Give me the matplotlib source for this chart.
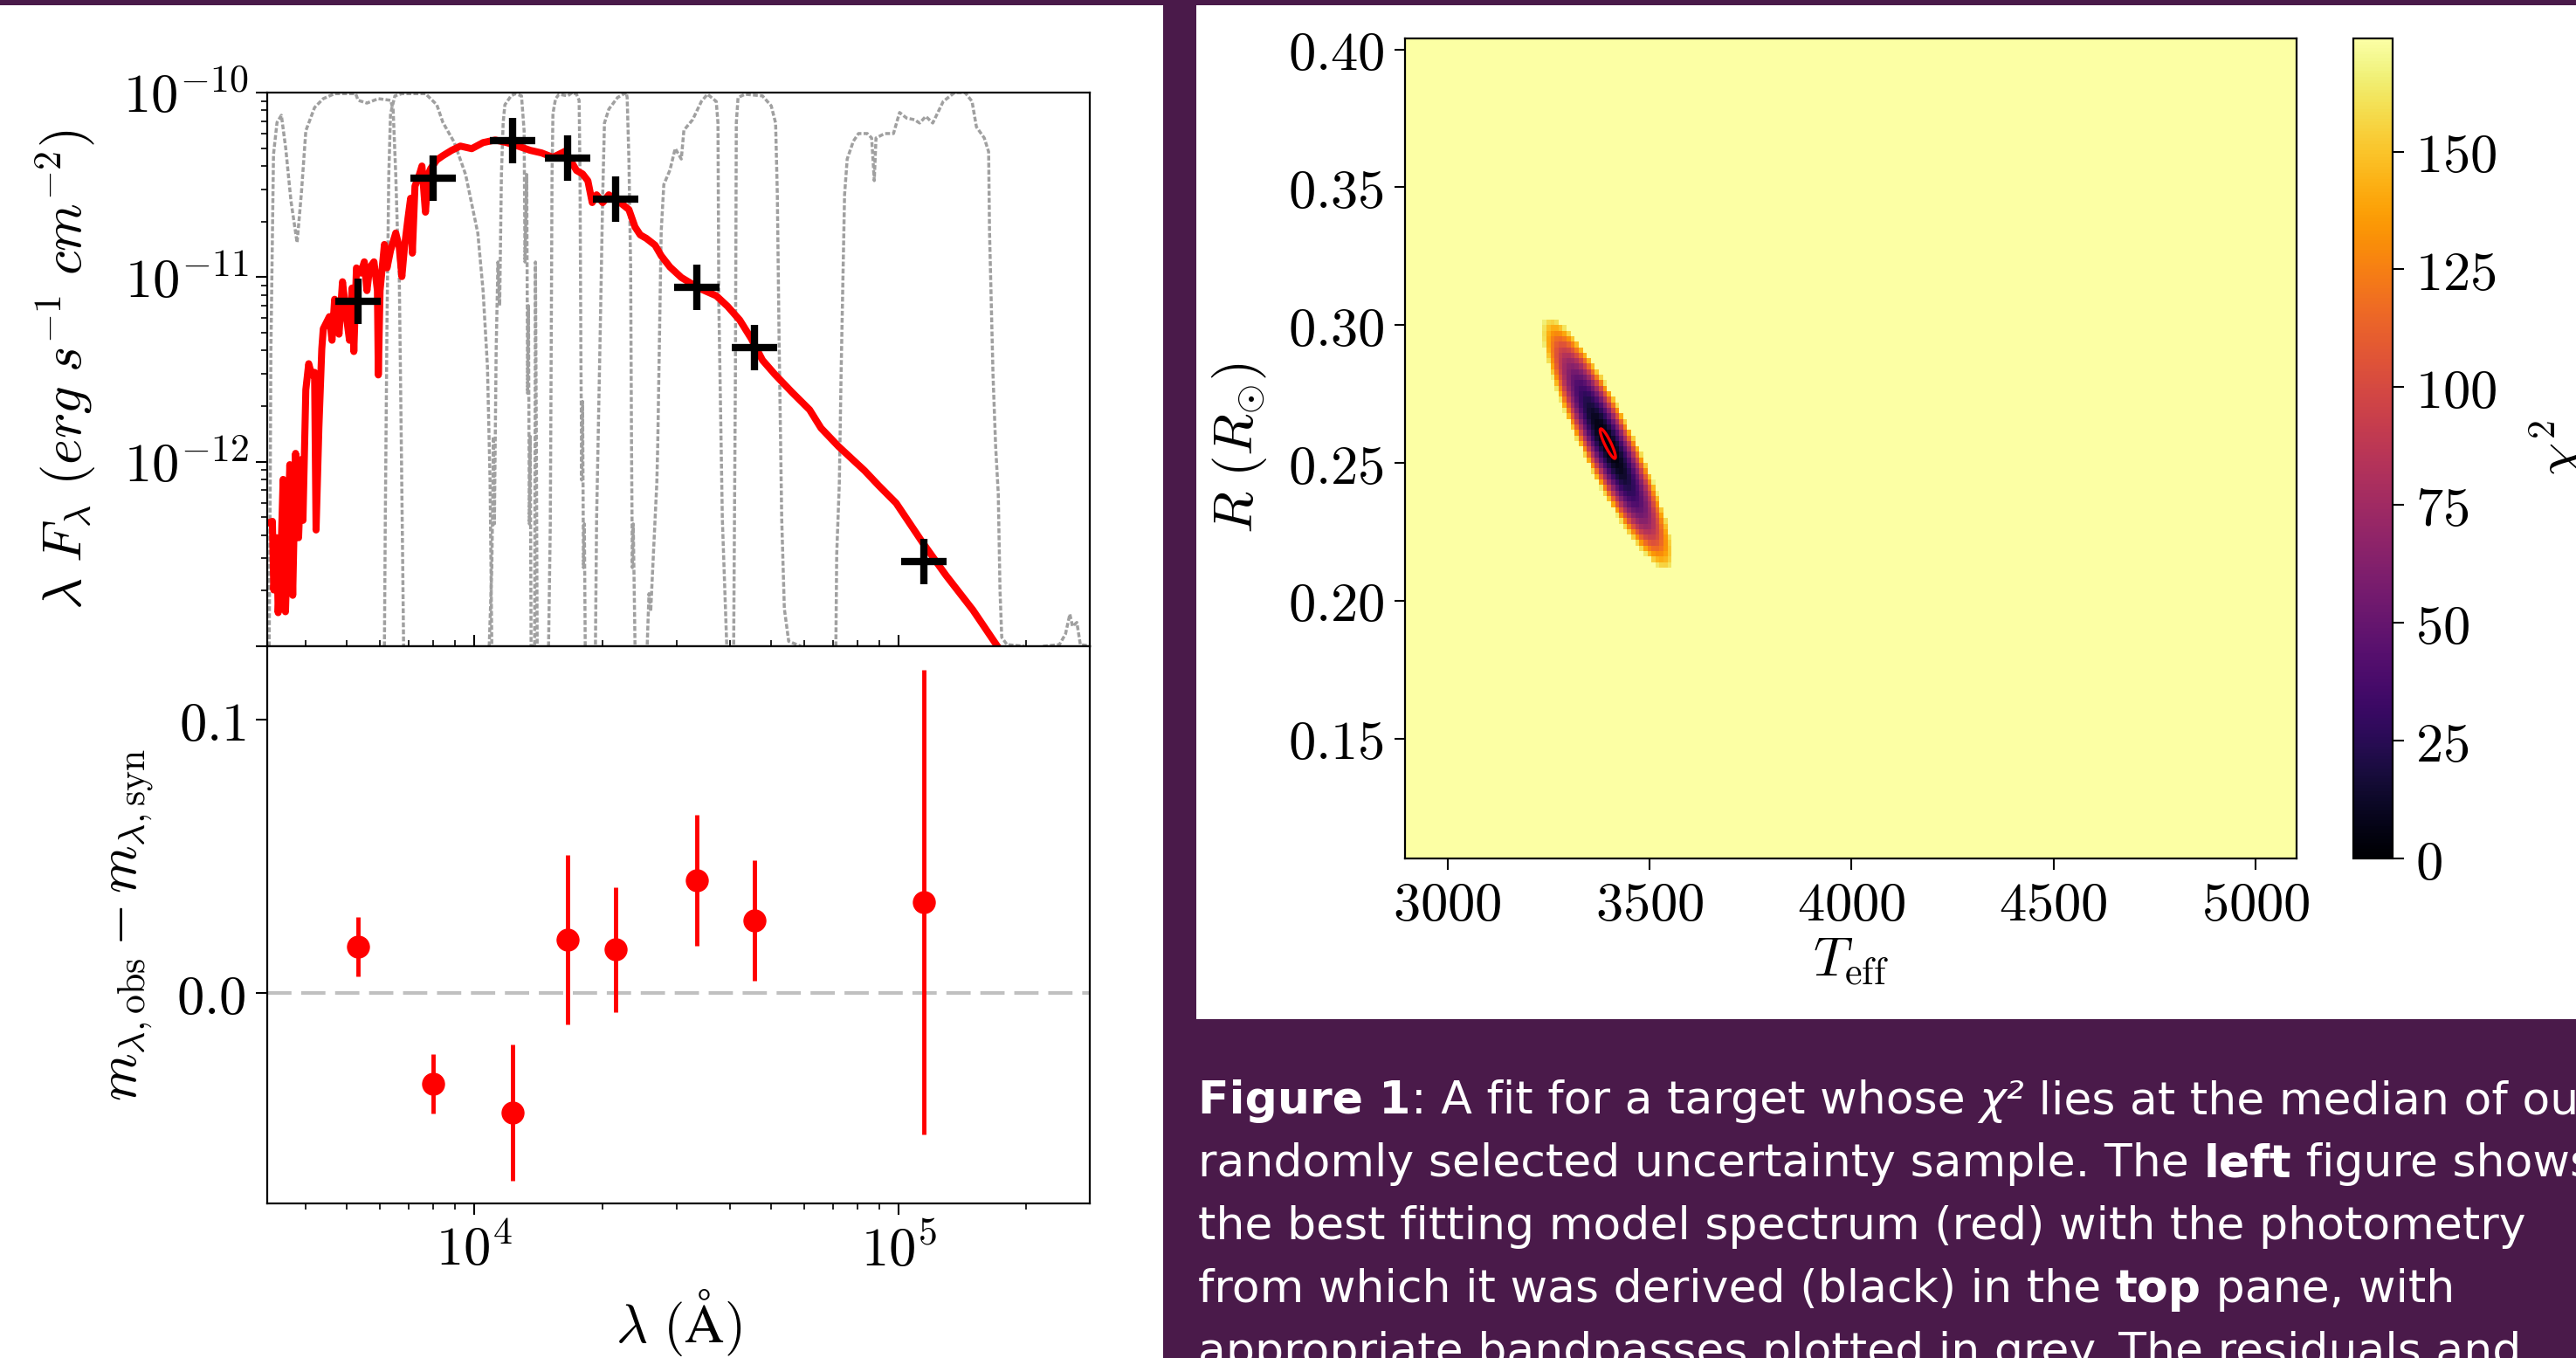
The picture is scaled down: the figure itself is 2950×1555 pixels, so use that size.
import numpy as np
import matplotlib
matplotlib.use("Agg")
import matplotlib.pyplot as plt
from matplotlib.patches import Rectangle
from matplotlib.ticker import FixedLocator, NullFormatter, FuncFormatter, LogLocator

# ------------------------------------------------------------------ data
# photometry (black crosses, top pane)
PHOT_LAM = [5325, 7985, 12295, 16600, 21490, 33370, 45630, 114700]
PHOT_FLUX = [7.40e-12, 3.44e-11, 5.47e-11, 4.41e-11, 2.65e-11, 8.83e-12, 4.15e-12, 2.89e-13]
# residuals (red points, bottom pane)
RESID = [0.0170, -0.0332, -0.0437, 0.0196, 0.0159, 0.0412, 0.0266, 0.0334]
RESID_ERR = [0.0109, 0.0109, 0.0249, 0.0310, 0.0230, 0.0240, 0.0220, 0.0850]

# best-fitting model spectrum (log10 wavelength [A], log10 flux)
SPEC_LOGLAM = [3.5138, 3.5241, 3.5274, 3.5344, 3.5377, 3.5447, 3.5494, 3.5549, 3.5652, 3.5720,
               3.5788, 3.5858, 3.5926, 3.5961, 3.6029, 3.6097, 3.6167, 3.6235, 3.6270, 3.6337, 3.6405,
               3.6440, 3.6584, 3.6646, 3.6708, 3.6811, 3.6893, 3.6996, 3.7058, 3.7119, 3.7160,
               3.7222, 3.7325, 3.7407, 3.7469, 3.7531, 3.7634, 3.7716, 3.7737, 3.7778, 3.7881,
               3.7942, 3.8025, 3.8148, 3.8230, 3.8292, 3.8354, 3.8436, 3.8498, 3.8539, 3.8601,
               3.8704, 3.8765, 3.8848, 3.8909, 3.8971, 3.9115, 3.9259, 3.9465, 3.9671, 3.9938,
               4.0206, 4.0494, 4.0761, 4.1029, 4.1317, 4.1584, 4.1852, 4.2140,
               4.2407, 4.2551, 4.2675, 4.2778, 4.2881, 4.3025, 4.3169, 4.3436, 4.3642, 4.3786,
               4.3909, 4.4053, 4.4259, 4.4403, 4.4609, 4.4877, 4.5288, 4.5700, 4.5967, 4.6255,
               4.6523, 4.6790, 4.7078, 4.7490, 4.7901, 4.8169, 4.8580, 4.9198, 4.9527, 4.9938,
               5.0556, 5.1111, 5.1749, 5.2305, 5.2593]
SPEC_LOGFLUX = [-12.332, -12.323, -12.695, -12.412, -12.818, -12.474, -12.096, -12.813, -12.016, -12.724,
                -11.955, -12.412, -11.988, -12.318, -11.610, -11.469, -11.530, -11.516, -12.370, -11.813, -11.389,
                -11.280, -11.214, -11.342, -11.120, -11.309, -11.025, -11.233, -11.342, -11.059, -11.403,
                -10.950, -10.978, -10.917, -11.073, -10.950, -10.917, -11.073, -11.530, -11.073, -10.823,
                -10.950, -10.856, -10.761, -10.837, -10.997, -10.837, -10.681, -10.573, -10.870, -10.507,
                -10.445, -10.398, -10.648, -10.445, -10.412, -10.365, -10.342, -10.313, -10.290, -10.304,
                -10.271, -10.257, -10.271, -10.290, -10.313, -10.327, -10.351, -10.318,
                -10.422, -10.441, -10.478, -10.596, -10.554, -10.596, -10.554, -10.596, -10.634, -10.728,
                -10.771, -10.790, -10.827, -10.884, -10.945, -11.002, -11.059, -11.101, -11.158, -11.233,
                -11.332, -11.450, -11.526, -11.625, -11.719, -11.818, -11.917, -12.049, -12.129, -12.224,
                -12.436, -12.615, -12.804, -12.993, -13.087]

# bandpasses (log10 wavelength, normalised transmission)
BP_LOGLAM = [3.5165, 3.5185, 3.5206, 3.5267, 3.5350, 3.5453, 3.5556, 3.5679, 3.5823, 3.5926, 3.6029,
             3.6235, 3.6440, 3.6708, 3.7202, 3.7263, 3.7469, 3.7737, 3.8025, 3.8086, 3.8148, 3.8189,
             3.8230, 3.8272, 3.8313, 3.8333]
BP_TRANS = [0.0, 0.221, 0.536, 0.888, 0.946, 0.959, 0.899, 0.804, 0.729, 0.820, 0.931,
            0.973, 0.989, 0.998, 0.998, 0.986, 0.981, 0.989, 0.986, 0.970, 0.852, 0.746,
            0.673, 0.410, 0.142, 0.0]
RP_LOGLAM = [3.7881, 3.7901, 3.7942, 3.7984, 3.8025, 3.8128, 3.8292, 3.8848, 3.9115, 3.9259,
             3.9527, 3.9794, 4.0082, 4.0206, 4.0309, 4.0370, 4.0412]
RP_TRANS = [0.0, 0.221, 0.588, 0.852, 0.962, 0.994, 0.998, 0.998, 0.978, 0.946,
            0.910, 0.852, 0.746, 0.642, 0.505, 0.300, 0.0]
J_LOGLAM = [4.0350, 4.0412, 4.0453, 4.0473, 4.0514, 4.0556, 4.0597, 4.0638, 4.0679, 4.0720, 4.0864,
            4.0967, 4.1111, 4.1173, 4.1193, 4.1235, 4.1255, 4.1276, 4.1296, 4.1317, 4.1337,
            4.1420, 4.1440, 4.1461, 4.1481]
J_TRANS = [0.0, 0.142, 0.379, 0.221, 0.536, 0.694, 0.615, 0.852, 0.946, 0.978, 0.994,
           0.998, 0.994, 0.931, 0.694, 0.852, 0.457, 0.615, 0.221, 0.379, 0.0,
           0.0, 0.694, 0.379, 0.0]
H_LOGLAM = [4.1749, 4.1790, 4.1811, 4.1831, 4.1852, 4.1914, 4.1996, 4.2202, 4.2305, 4.2407, 4.2469,
            4.2490, 4.2510, 4.2531, 4.2551, 4.2572, 4.2593, 4.2613]
H_TRANS = [0.0, 0.221, 0.536, 0.852, 0.962, 0.989, 0.997, 0.994, 1.0, 0.997, 0.986,
           0.852, 0.536, 0.300, 0.442, 0.142, 0.221, 0.0]
KS_LOGLAM = [4.2854, 4.2881, 4.2963, 4.3025, 4.3066, 4.3169, 4.3374, 4.3580, 4.3601, 4.3642,
             4.3683, 4.3704, 4.3724, 4.3745, 4.3786]
KS_TRANS = [0.003, 0.230, 0.555, 0.815, 0.945, 0.970, 0.991, 1.0, 0.991, 0.880,
            0.685, 0.361, 0.142, 0.221, 0.003]
W1_LOGLAM = [4.4074, 4.4115, 4.4156, 4.4198, 4.4300, 4.4321, 4.4362, 4.4403, 4.4465, 4.4609, 4.4733,
             4.4877, 4.4938, 4.5144, 4.5350, 4.5494, 4.5700, 4.5741, 4.5761, 4.5844, 4.5947]
W1_TRANS = [0.003, 0.095, 0.063, 0.132, 0.295, 0.361, 0.555, 0.749, 0.834, 0.860, 0.899,
            0.880, 0.932, 0.951, 0.984, 0.997, 0.984, 0.945, 0.620, 0.230, 0.003]
W2_LOGLAM = [4.6111, 4.6152, 4.6173, 4.6214, 4.6379, 4.6790, 4.6996, 4.7099, 4.7140, 4.7181,
             4.7243, 4.7305, 4.7407, 4.7695]
W2_TRANS = [0.003, 0.491, 0.945, 0.991, 0.997, 0.994, 0.976, 0.945, 0.815, 0.555,
            0.230, 0.068, 0.009, 0.0]
W3_LOGLAM = [4.8519, 4.8539, 4.8601, 4.8642, 4.8724, 4.8786, 4.8930, 4.9053, 4.9259, 4.9362, 4.9424,
             4.9465, 4.9671, 4.9877, 5.0021, 5.0185, 5.0370, 5.0494, 5.0638, 5.0802, 5.1049, 5.1317,
             5.1564, 5.1728, 5.1831, 5.2016, 5.2119, 5.2140, 5.2222, 5.2284, 5.2346, 5.2387, 5.2428,
             5.2551, 5.2963]
W3_TRANS = [0.0, 0.166, 0.295, 0.491, 0.815, 0.880, 0.912, 0.926, 0.926, 0.918, 0.841,
            0.918, 0.926, 0.926, 0.964, 0.954, 0.951, 0.945, 0.957, 0.945, 0.984, 1.0,
            1.0, 0.984, 0.938, 0.918, 0.893, 0.749, 0.491, 0.361, 0.276, 0.101, 0.016,
            0.003, 0.0]
W4_LOGLAM = [5.3400, 5.3786, 5.3930, 5.4033, 5.4095, 5.4198, 5.4280, 5.4547]
W4_TRANS = [0.0, 0.003, 0.022, 0.058, 0.036, 0.043, 0.003, 0.0]

BANDPASSES = [(BP_LOGLAM, BP_TRANS), (RP_LOGLAM, RP_TRANS), (J_LOGLAM, J_TRANS),
              (H_LOGLAM, H_TRANS), (KS_LOGLAM, KS_TRANS), (W1_LOGLAM, W1_TRANS),
              (W2_LOGLAM, W2_TRANS), (W3_LOGLAM, W3_TRANS), (W4_LOGLAM, W4_TRANS)]

# chi^2 map over (Teff, R) grid
TEFF_GRID = np.arange(2900, 5101, 10)
RADIUS_GRID = np.arange(0.107, 0.4035, 0.002)
CHI2_MIN = 2.0          # value at the best fit
CHI2_EDGE = 165.0       # value at the edge of the computed region
CHI2_VMAX = 174.0
FIT_TEFF, FIT_RADIUS = 3397.0, 0.2570
TIP_DTEFF, TIP_DRADIUS = -150.0, 0.0455   # centre -> upper tip of the valley
MINOR_RATIO = 0.19
CONTOUR_DCHI2 = 2.3

TEFF_TICKS = [3000, 3500, 4000, 4500, 5000]
RADIUS_TICKS = [0.15, 0.20, 0.25, 0.30, 0.35, 0.40]
CBAR_TICKS = [0, 25, 50, 75, 100, 125, 150]
SED_YTICKS = [1e-13, 1e-12, 1e-11, 1e-10]
RES_YTICKS = [0.0, 0.1]
LAM_TICKS = [1e4, 1e5]

CAPTION = [
    [("Figure 1", "bold", "normal"), (": A fit for a target whose ", "normal", "normal"),
     ("\u03c7\u00b2", "normal", "italic"), (" lies at the median of our", "normal", "normal")],
    [("randomly selected uncertainty sample. The ", "normal", "normal"), ("left", "bold", "normal"),
     (" figure shows", "normal", "normal")],
    [("the best fitting model spectrum (red) with the photometry", "normal", "normal")],
    [("from which it was derived (black) in the ", "normal", "normal"), ("top", "bold", "normal"),
     (" pane, with", "normal", "normal")],
    [("appropriate bandpasses plotted in grey. The residuals and", "normal", "normal")],
]

# ------------------------------------------------------------------ style
plt.rcParams["mathtext.fontset"] = "cm"
plt.rcParams["lines.scale_dashes"] = False
W, H, DPI = 2950, 1555, 100
FS = 45
PURPLE = "#4a1a4a"

fig = plt.figure(figsize=(W / DPI, H / DPI), dpi=DPI)
fig.patch.set_facecolor(PURPLE)


def rect(left, top, right, bottom):
    return [left / W, 1 - bottom / H, (right - left) / W, (bottom - top) / H]


for (l, t, r, b) in [(0, 6, 1332, 1555), (1370, 6, 2950, 1167)]:
    fig.add_artist(Rectangle((l / W, 1 - b / H), (r - l) / W, (b - t) / H,
                             transform=fig.transFigure, facecolor="white",
                             edgecolor="none", zorder=-10))

ax_sed = fig.add_axes(rect(306, 106, 1248, 740))
ax_res = fig.add_axes(rect(306, 740, 1248, 1378), sharex=ax_sed)
ax_map = fig.add_axes(rect(1609, 44, 2630, 983))
cax = fig.add_axes(rect(2695, 44, 2740, 983))

for a in (ax_sed, ax_res, ax_map, cax):
    for s in a.spines.values():
        s.set_linewidth(1.6)

mathfmt_int = FuncFormatter(lambda v, p: r"$%d$" % round(v))

# ------------------------------------------------------------------ SED pane
xform = ax_sed.get_xaxis_transform()
for ll, tt in BANDPASSES:
    ax_sed.plot(10 ** np.array(ll), tt, transform=xform, color="#a0a0a0",
                lw=2.5, dashes=(4.0, 1.8), zorder=1)
ax_sed.plot(10 ** np.array(SPEC_LOGLAM), 10 ** np.array(SPEC_LOGFLUX), color="red",
            lw=5.8, solid_joinstyle="round", solid_capstyle="round", zorder=2)
ax_sed.plot(PHOT_LAM, PHOT_FLUX, ls="none", marker="+", ms=37, mew=6, color="black", zorder=3)
ax_sed.set_xscale("log")
ax_sed.set_yscale("log")
ax_sed.set_xlim(3250, 2.82e5)
ax_sed.set_ylim(1e-13, 1e-10)
ax_sed.yaxis.set_major_locator(FixedLocator(SED_YTICKS))
ax_sed.yaxis.set_major_formatter(FuncFormatter(
    lambda v, p: "" if v < 5e-13 else r"$10^{%d}$" % round(np.log10(v))))
ax_sed.yaxis.set_minor_locator(LogLocator(base=10, subs=np.arange(2, 10)))
ax_sed.yaxis.set_minor_formatter(NullFormatter())
ax_sed.tick_params(axis="y", which="major", length=9.5, width=1.5, labelsize=FS, pad=6)
ax_sed.tick_params(axis="y", which="minor", length=5, width=1.2)
ax_sed.tick_params(axis="x", which="both", direction="in", labelbottom=False)
ax_sed.tick_params(axis="x", which="major", length=9.5, width=1.5)
ax_sed.tick_params(axis="x", which="minor", length=5, width=1.2)
ax_sed.set_ylabel(r"$\lambda\ F_\lambda\ (erg\ s^{-1}\ cm^{-2})$", fontsize=FS)
ax_sed.yaxis.set_label_coords(-0.205, 0.5)

# ------------------------------------------------------------------ residual pane
ax_res.axhline(0.0, color="silver", lw=3, dashes=(20, 8), zorder=1)
ax_res.errorbar(PHOT_LAM, RESID, yerr=RESID_ERR, fmt="o", color="red", ms=18,
                elinewidth=3.5, capsize=0, zorder=3)
ax_res.set_ylim(-0.077, 0.127)
ax_res.set_xlim(3250, 2.82e5)
ax_res.yaxis.set_major_locator(FixedLocator(RES_YTICKS))
ax_res.yaxis.set_major_formatter(FuncFormatter(lambda v, p: r"$%.1f$" % v))
ax_res.xaxis.set_major_locator(FixedLocator(LAM_TICKS))
ax_res.xaxis.set_major_formatter(FuncFormatter(lambda v, p: r"$10^{%d}$" % round(np.log10(v))))
ax_res.xaxis.set_minor_locator(LogLocator(base=10, subs=np.arange(2, 10)))
ax_res.xaxis.set_minor_formatter(NullFormatter())
ax_res.tick_params(axis="both", which="major", length=9.5, width=1.5, labelsize=FS, pad=8)
ax_res.tick_params(axis="x", which="minor", length=5, width=1.2)
ax_res.set_ylabel(r"$m_{\lambda,\mathrm{obs}} - m_{\lambda,\mathrm{syn}}$", fontsize=FS)
ax_res.yaxis.set_label_coords(-0.135, 0.5)
ax_res.set_xlabel(r"$\lambda\ (\mathrm{\AA})$", fontsize=FS)
ax_res.xaxis.set_label_coords(0.5, -0.150)

# ------------------------------------------------------------------ chi^2 map
x_lim = (2895, 5102)
y_lim = (0.1065, 0.4040)
ax_map.set_xlim(*x_lim)
ax_map.set_ylim(*y_lim)
px_per_k = ax_map.bbox.width / (x_lim[1] - x_lim[0])
px_per_r = ax_map.bbox.height / (y_lim[1] - y_lim[0])


def chi2_surface(tt, rr):
    gx = (tt - FIT_TEFF) * px_per_k
    gy = (rr - FIT_RADIUS) * px_per_r
    tx, ty = TIP_DTEFF * px_per_k, TIP_DRADIUS * px_per_r
    a = np.hypot(tx, ty)
    ux, uy = tx / a, ty / a
    b = a * MINOR_RATIO
    p = gx * ux + gy * uy
    q = -gx * uy + gy * ux
    qq = (p / a) ** 2 + (q / b) ** 2
    return CHI2_MIN + CHI2_EDGE * qq, qq


TT, RR = np.meshgrid(TEFF_GRID, RADIUS_GRID)
chi2, qq = chi2_surface(TT, RR)
chi2 = np.where(qq > 1.0, 1e3, chi2)
mesh = ax_map.pcolormesh(TEFF_GRID, RADIUS_GRID, chi2, cmap="inferno", vmin=0,
                         vmax=CHI2_VMAX, shading="nearest", rasterized=True)
Tf, Rf = np.meshgrid(np.linspace(3250, 3550, 601), np.linspace(0.21, 0.31, 601))
chi2f, _ = chi2_surface(Tf, Rf)
ax_map.contour(Tf, Rf, chi2f, levels=[CHI2_MIN + CONTOUR_DCHI2], colors="red", linewidths=2.4)
ax_map.set_xlim(*x_lim)
ax_map.set_ylim(*y_lim)
ax_map.xaxis.set_major_locator(FixedLocator(TEFF_TICKS))
ax_map.xaxis.set_major_formatter(mathfmt_int)
ax_map.yaxis.set_major_locator(FixedLocator(RADIUS_TICKS))
ax_map.yaxis.set_major_formatter(FuncFormatter(lambda v, p: r"$%.2f$" % v))
ax_map.tick_params(axis="both", which="major", length=9, width=1.5, labelsize=FS, pad=8)
ax_map.set_xlabel(r"$T_{\mathrm{eff}}$", fontsize=FS)
ax_map.xaxis.set_label_coords(0.5, -0.093)
ax_map.set_ylabel(r"$R\ (R_{\odot})$", fontsize=FS)
ax_map.yaxis.set_label_coords(-0.153, 0.5)

cb = fig.colorbar(mesh, cax=cax, ticks=CBAR_TICKS)
cb.outline.set_linewidth(1.6)
cax.yaxis.set_major_formatter(mathfmt_int)
cax.tick_params(length=9, width=1.5, labelsize=FS, pad=10)
cb.set_label(r"$\chi^2$", fontsize=FS)
cax.yaxis.set_label_coords(4.44, 0.5)

# ------------------------------------------------------------------ caption
renderer = fig.canvas.get_renderer()
CFONT = "DejaVu Sans"


def seg_width(s, size, weight, style):
    kw = dict(fontsize=size, fontweight=weight, fontstyle=style, family=CFONT)
    t1 = fig.text(0, 0, "|" + s + "|", **kw)
    t2 = fig.text(0, 0, "||", **kw)
    w = t1.get_window_extent(renderer).width - t2.get_window_extent(renderer).width
    t1.remove()
    t2.remove()
    return w


ref_size = 36.0
# fit the font so that lines 1, 3 and 4 together span what they span in the poster
w_ref = sum(seg_width(s, ref_size, wt, st) for i in (0, 2, 3) for s, wt, st in CAPTION[i])
CFS = ref_size * (1570.0 + 1560.0 + 1440.0) / w_ref

x_start, baselines = 1372, [1275, 1347, 1419, 1491, 1563]
for line, yb in zip(CAPTION, baselines):
    x = x_start
    for s, wt, st in line:
        fig.text(x / W, 1 - yb / H, s, fontsize=CFS, fontweight=wt, fontstyle=st,
                 family=CFONT, color="white", ha="left", va="baseline")
        x += seg_width(s, CFS, wt, st)

fig.savefig("out.png", dpi=DPI, facecolor=fig.get_facecolor())
